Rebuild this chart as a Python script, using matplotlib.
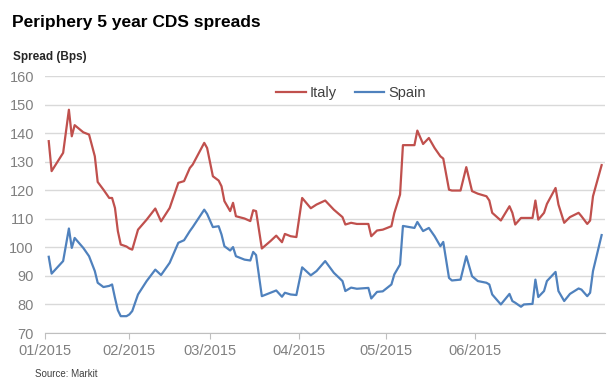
import numpy as np
import pandas as pd
import matplotlib
matplotlib.use('Agg')
import matplotlib.pyplot as plt
import matplotlib.dates as mdates

plt.rcParams['font.family'] = ['Liberation Sans', 'DejaVu Sans']

dates = ['2015-01-04', '2015-01-05', '2015-01-09', '2015-01-11', '2015-01-12',
         '2015-01-13', '2015-01-16', '2015-01-18', '2015-01-20', '2015-01-21',
         '2015-01-23', '2015-01-25', '2015-01-26', '2015-01-27', '2015-01-28',
         '2015-01-29', '2015-01-31', '2015-02-01', '2015-02-02', '2015-02-04',
         '2015-02-07', '2015-02-10', '2015-02-12', '2015-02-15', '2015-02-18',
         '2015-02-20', '2015-02-22', '2015-02-23', '2015-02-27', '2015-02-28',
         '2015-03-02', '2015-03-04', '2015-03-05', '2015-03-06', '2015-03-08',
         '2015-03-09', '2015-03-10', '2015-03-13', '2015-03-15', '2015-03-16',
         '2015-03-17', '2015-03-19', '2015-03-22', '2015-03-24', '2015-03-26',
         '2015-03-27', '2015-03-29', '2015-03-31', '2015-04-02', '2015-04-05',
         '2015-04-07', '2015-04-10', '2015-04-13', '2015-04-16', '2015-04-17',
         '2015-04-19', '2015-04-21', '2015-04-25', '2015-04-26', '2015-04-28',
         '2015-04-30', '2015-05-03', '2015-05-04', '2015-05-06', '2015-05-07',
         '2015-05-11', '2015-05-12', '2015-05-14', '2015-05-16', '2015-05-18',
         '2015-05-20', '2015-05-21', '2015-05-23', '2015-05-24', '2015-05-27',
         '2015-05-29', '2015-05-31', '2015-06-02', '2015-06-05', '2015-06-06',
         '2015-06-07', '2015-06-10', '2015-06-13', '2015-06-14', '2015-06-15',
         '2015-06-17', '2015-06-18', '2015-06-21', '2015-06-22', '2015-06-23',
         '2015-06-25', '2015-06-26', '2015-06-29', '2015-06-30', '2015-07-02',
         '2015-07-04', '2015-07-07', '2015-07-08', '2015-07-10', '2015-07-11',
         '2015-07-12', '2015-07-15']

italy = [137.2, 126.7, 133.1, 148.2, 138.9, 142.8, 140.3, 139.5, 131.9, 122.9,
         120.2, 117.3, 117.3, 113.8, 105.7, 101.0, 100.3, 99.6, 99.2, 106.2,
         109.7, 113.6, 109.1, 113.8, 122.6, 123.2, 127.8, 129.0, 136.6, 134.8,
         124.9, 123.4, 121.4, 116.2, 112.7, 115.6, 110.9, 110.1, 109.2, 113.0,
         112.7, 99.6, 102.2, 104.1, 101.8, 104.7, 103.9, 103.6, 117.3, 113.7,
         115.0, 116.4, 113.2, 110.6, 108.0, 108.6, 108.2, 108.2, 103.9, 105.9,
         106.2, 107.4, 112.0, 118.5, 135.8, 135.8, 140.9, 136.2, 138.3, 134.8,
         131.9, 131.1, 120.2, 119.9, 119.9, 128.1, 119.7, 118.8, 117.9, 116.4,
         112.1, 109.4, 114.4, 112.1, 108.0, 110.3, 110.3, 110.3, 116.4, 109.7,
         112.1, 115.2, 120.8, 115.0, 108.6, 110.6, 112.1, 110.9, 108.2, 109.4,
         117.9, 128.8]

spain = [96.7, 90.8, 95.2, 106.6, 99.8, 103.3, 99.8, 96.9, 91.7, 87.6,
         86.1, 86.5, 87.0, 82.3, 78.0, 75.9, 75.9, 76.5, 77.7, 83.5,
         88.2, 92.2, 90.3, 94.6, 101.6, 102.5, 105.7, 107.1, 113.2, 111.7,
         107.1, 107.4, 104.5, 100.4, 98.9, 100.1, 96.9, 95.7, 95.4, 98.4,
         97.3, 82.9, 84.1, 84.9, 82.7, 84.1, 83.5, 83.3, 93.0, 90.2,
         91.7, 95.2, 91.1, 88.2, 84.7, 85.9, 85.5, 85.8, 82.1, 84.4,
         84.6, 87.0, 90.5, 94.0, 107.5, 106.8, 108.9, 105.7, 106.8, 103.9,
         100.4, 101.9, 89.3, 88.4, 88.7, 96.9, 89.9, 88.2, 87.6, 87.0,
         83.5, 80.0, 83.7, 81.2, 80.6, 79.2, 80.0, 80.2, 88.7, 82.6,
         84.7, 88.2, 91.4, 84.7, 81.2, 83.7, 85.6, 85.2, 82.9, 84.1,
         91.7, 104.3]

# first tick sits at the left edge of the axis, the rest on month starts
month_ticks = ['2015-01-02 17:00', '2015-02-01 00:00', '2015-03-01 00:00',
               '2015-04-01 00:00', '2015-05-01 00:00', '2015-06-01 00:00']
yticks = [70, 80, 90, 100, 110, 120, 130, 140, 150, 160]

d = pd.to_datetime(dates)
gray = '#808080'

fig = plt.figure(figsize=(6.1, 3.87), dpi=100)
ax = fig.add_axes([0.0738, 0.1395, 0.9172, 0.664])

ax.plot(d, italy, color='#C0504D', lw=1.6, label='Italy')
ax.plot(d, spain, color='#4F81BD', lw=1.6, label='Spain')

ax.set_ylim(70, 160)
ax.set_yticks(yticks)
ax.set_xlim(pd.Timestamp('2015-01-02 17:00'), pd.Timestamp('2015-07-16'))
ax.set_xticks(pd.to_datetime(month_ticks))
ax.xaxis.set_major_formatter(mdates.DateFormatter('%m/%Y'))

ax.grid(axis='y', color='#d9d9d9', lw=1)
ax.set_axisbelow(True)
for s in ['top', 'right', 'left']:
    ax.spines[s].set_visible(False)
ax.spines['bottom'].set_color('#bfbfbf')
ax.tick_params(axis='y', length=0, labelsize=10.5, labelcolor=gray, pad=8)
ax.tick_params(axis='x', length=4, color='#bfbfbf', labelsize=10.5,
               labelcolor=gray, pad=4)

ax.legend(loc='center', bbox_to_anchor=(0.547, 0.934), ncol=2, frameon=False,
          fontsize=10.5, handlelength=2.0, handletextpad=0.3,
          columnspacing=1.2, labelcolor='#404040')

fig.text(0.02, 0.962, 'Periphery 5 year CDS spreads', fontsize=12.5,
         fontweight='bold', va='top', ha='left')
fig.text(0.021, 0.868, 'Spread (Bps)', fontsize=8.5, fontweight='bold',
         va='top', ha='left', color='#262626')
fig.text(0.057, 0.034, 'Source: Markit', fontsize=7, va='center',
         ha='left', color='#404040')

fig.savefig('out.png', dpi=100)
